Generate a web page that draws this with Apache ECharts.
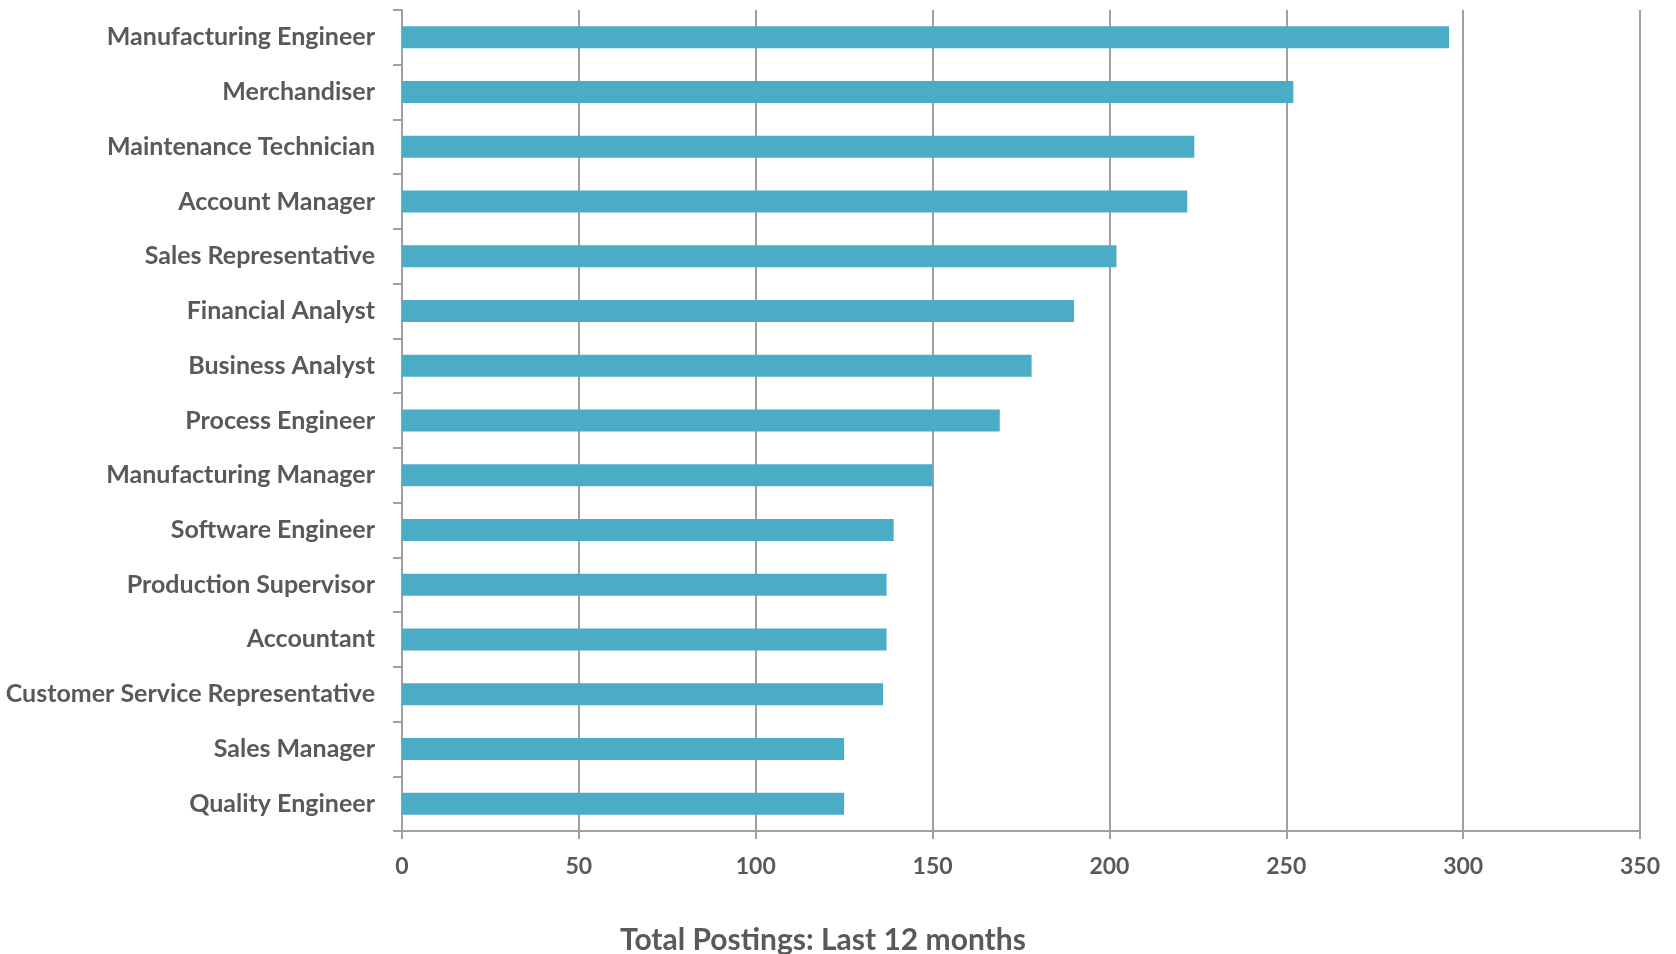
<!DOCTYPE html>
<html>
<head>
<meta charset="utf-8">
<script src="https://cdn.jsdelivr.net/npm/echarts@6/dist/echarts.min.js"></script>
<style>
html,body{margin:0;padding:0;background:#fff;}
#chart{width:1676px;height:954px;}
</style>
</head>
<body>
<div id="chart"></div>
<script>
const categories = [
  "Manufacturing Engineer",
  "Merchandiser",
  "Maintenance Technician",
  "Account Manager",
  "Sales Representative",
  "Financial Analyst",
  "Business Analyst",
  "Process Engineer",
  "Manufacturing Manager",
  "Software Engineer",
  "Production Supervisor",
  "Accountant",
  "Customer Service Representative",
  "Sales Manager",
  "Quality Engineer"
];
const postings = [296, 252, 224, 222, 202, 190, 178, 169, 150, 139, 137, 137, 136, 125, 125];
const axisTitle = "Total Postings: Last 12 months";

const FONT = "Lato";
const TXT = "#595959";
const GRID = "#a0a0a0";

const chart = echarts.init(document.getElementById('chart'));
chart.setOption({
  animation: false,
  title: {
    text: axisTitle,
    left: 615,
    top: 920,
    textStyle: { fontFamily: FONT, fontWeight: 'bold', fontSize: 30, color: TXT }
  },
  grid: { left: 402, right: 36, top: 10, bottom: 123, containLabel: false },
  xAxis: {
    type: 'value',
    min: 0, max: 350, interval: 50,
    axisLine: { show: true, lineStyle: { color: GRID, width: 2 } },
    axisTick: { show: true, length: 8, lineStyle: { color: GRID, width: 2 } },
    splitLine: { show: true, lineStyle: { color: GRID, width: 2 } },
    axisLabel: { margin: 24, fontFamily: FONT, fontWeight: 'bold', fontSize: 23, color: TXT }
  },
  yAxis: {
    type: 'category',
    data: categories,
    inverse: true,
    axisLine: { show: true, lineStyle: { color: GRID, width: 2 } },
    axisTick: { show: true, length: 9, lineStyle: { color: GRID, width: 2 } },
    axisLabel: { margin: 27, fontFamily: FONT, fontWeight: 'bold', fontSize: 25, color: TXT }
  },
  series: [{
    type: 'bar',
    data: postings,
    barWidth: 22,
    itemStyle: { color: '#4BACC6' }
  }]
});
</script>
</body>
</html>
